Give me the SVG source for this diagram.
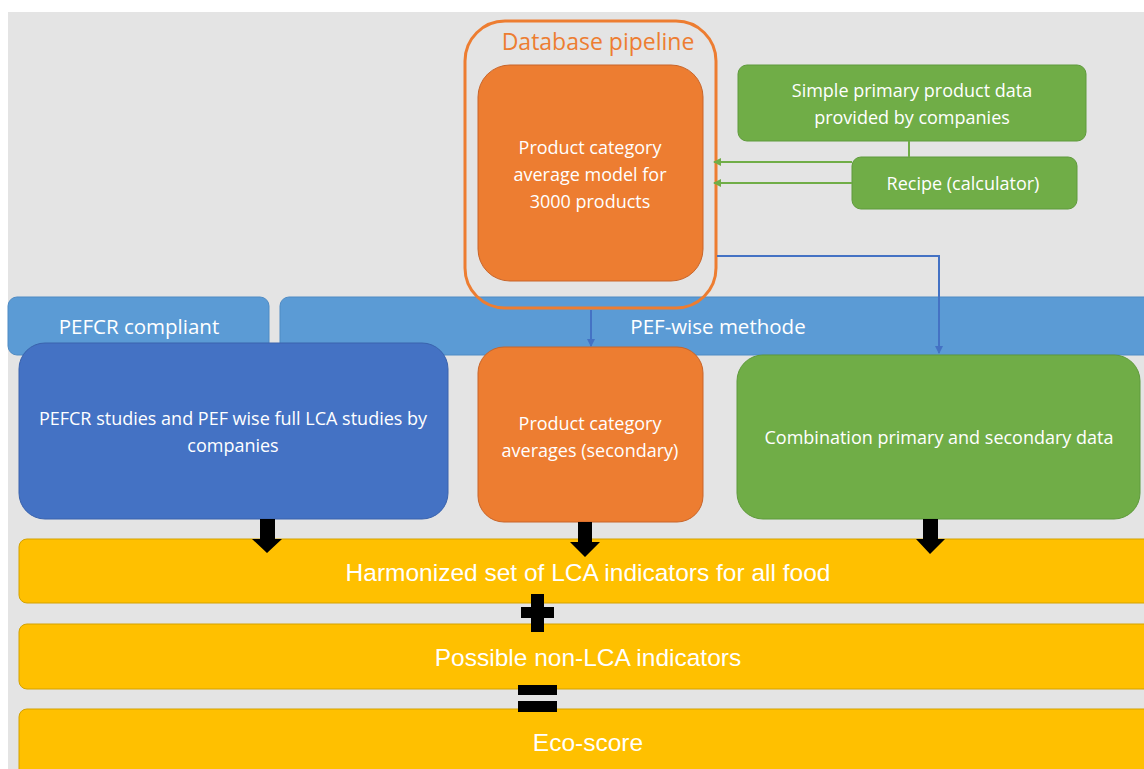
<svg xmlns="http://www.w3.org/2000/svg" width="1144" height="769" viewBox="0 0 1144 769">
<defs>
<style>
.t{font-family:"Open Sans","Liberation Sans",sans-serif;fill:#ffffff;text-anchor:middle}
.s{font-size:18px}
.m{font-size:20.5px}
.y{font-size:24.5px;font-family:"Liberation Sans","Open Sans",sans-serif}
.hdr{fill:#5b9bd5;stroke:#4f8bc4;stroke-width:1}
.org{fill:#ed7d31;stroke:#c8652a;stroke-width:1}
.grn{fill:#70ad47;stroke:#5f9a3c;stroke-width:1}
.blu{fill:#4472c4;stroke:#3a63ad;stroke-width:1}
.yel{fill:#ffc000;stroke:#d4a200;stroke-width:1}
.gl{stroke:#70ad47;stroke-width:2;fill:none}
.bl{stroke:#4472c4;stroke-width:2;fill:none}
</style>
<marker id="ga" markerWidth="8" markerHeight="8" refX="7" refY="4" orient="auto" markerUnits="userSpaceOnUse"><path d="M0,0 L8,4 L0,8 z" fill="#70ad47"/></marker>
<marker id="ba" markerWidth="8" markerHeight="8" refX="7" refY="4" orient="auto" markerUnits="userSpaceOnUse"><path d="M0,0 L8,4 L0,8 z" fill="#4472c4"/></marker>
</defs>
<rect x="0" y="0" width="1144" height="769" fill="#ffffff"/>
<rect x="8" y="12" width="1136" height="757" fill="#e4e4e4"/>

<g id="pefcr-compliant"><rect class="hdr" x="8" y="297" width="261" height="58" rx="9"/><text class="t m" x="139" y="334">PEFCR compliant</text></g>
<g id="pef-wise"><rect class="hdr" x="280" y="297" width="880" height="58" rx="9"/><text class="t m" x="718" y="334">PEF-wise methode</text></g>

<g id="database-pipeline"><rect x="465" y="21" width="251" height="287" rx="40" fill="none" stroke="#ed7d31" stroke-width="3"/><text x="598" y="50" style="font-family:'Open Sans','Liberation Sans',sans-serif;font-size:23px;fill:#ed7d31;text-anchor:middle">Database pipeline</text></g>
<g id="avg-model"><rect class="org" x="478" y="65" width="225" height="216" rx="32"/><text class="t s" x="590" y="154">Product category</text><text class="t s" x="590" y="181">average model for</text><text class="t s" x="590" y="208">3000 products</text></g>

<g id="simple-primary"><rect class="grn" x="738" y="65" width="348" height="76" rx="9"/><text class="t s" x="912" y="97">Simple primary product data</text><text class="t s" x="912" y="124">provided by companies</text></g>
<g id="recipe"><rect class="grn" x="852" y="157" width="225" height="52" rx="9"/><text class="t s" x="963" y="190">Recipe (calculator)</text></g>

<g id="pefcr-studies"><rect class="blu" x="19" y="343" width="429" height="176" rx="26"/><text class="t s" x="233" y="425">PEFCR studies and PEF wise full LCA studies by</text><text class="t s" x="233" y="452">companies</text></g>
<g id="category-averages"><rect class="org" x="478" y="347" width="225" height="175" rx="26"/><text class="t s" x="590" y="430">Product category</text><text class="t s" x="590" y="457">averages (secondary)</text></g>
<g id="combination"><rect class="grn" x="737" y="355" width="403" height="164" rx="26"/><text class="t s" x="939" y="444">Combination primary and secondary data</text></g>

<g id="harmonized"><rect class="yel" x="19" y="539" width="1140" height="64" rx="8"/><text class="t y" x="588" y="581">Harmonized set of LCA indicators for all food</text></g>
<g id="non-lca"><rect class="yel" x="19" y="624" width="1140" height="65" rx="8"/><text class="t y" x="588" y="666">Possible non-LCA indicators</text></g>
<g id="eco-score"><rect class="yel" x="19" y="709" width="1140" height="70" rx="8"/><text class="t y" x="588" y="751">Eco-score</text></g>

<g id="connectors">
<line class="gl" x1="909" y1="141" x2="909" y2="157"/>
<line class="gl" x1="852" y1="162" x2="714" y2="162" marker-end="url(#ga)"/>
<line class="gl" x1="852" y1="183" x2="714" y2="183" marker-end="url(#ga)"/>
<polyline class="bl" points="717,256 939,256 939,353" marker-end="url(#ba)"/>
<line class="bl" x1="591" y1="310" x2="591" y2="346" marker-end="url(#ba)"/>
<path d="M260,519 H275 V539 H282 L267,553 L252,539 H260 Z" fill="#000"/>
<path d="M578,522 H592 V542 H600 L585,557 L570,542 H578 Z" fill="#000"/>
<path d="M923,519 H938 V539 H945 L930,554 L916,539 H923 Z" fill="#000"/>
<path d="M531,594 H544 V607 H554 V618 H544 V632 H531 V618 H521 V607 H531 Z" fill="#000"/>
<rect x="518" y="685" width="39" height="10" fill="#000"/>
<rect x="518" y="701" width="39" height="11" fill="#000"/>
</g>
</svg>
